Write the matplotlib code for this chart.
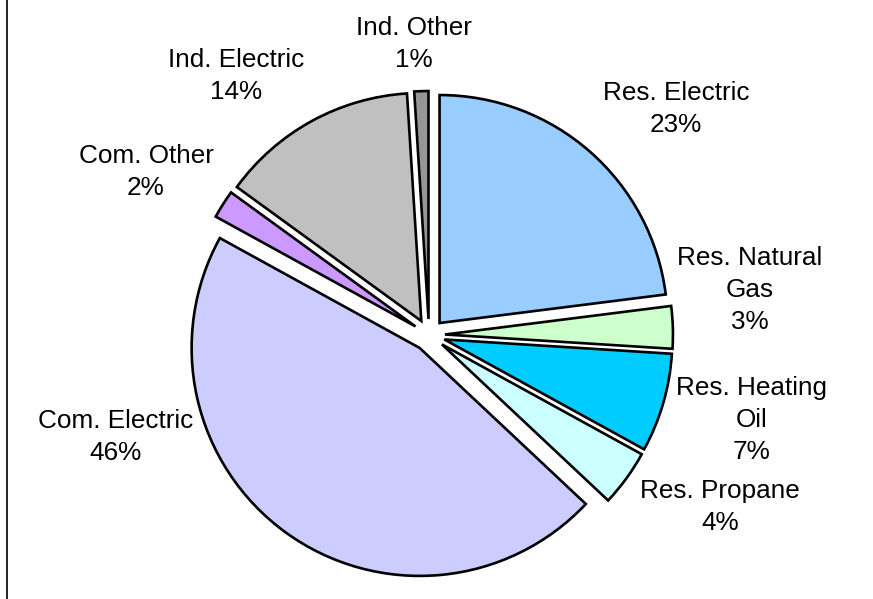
import matplotlib
matplotlib.use("Agg")
import matplotlib.pyplot as plt

categories = ["Res. Electric", "Res. Natural\nGas", "Res. Heating\nOil", "Res. Propane",
              "Com. Electric", "Com. Other", "Ind. Electric", "Ind. Other"]
shares = [23, 3, 7, 4, 46, 2, 14, 1]
colors = ["#99CCFF", "#CCFFCC", "#00CCFF", "#CCFFFF",
          "#CCCCFF", "#CC99FF", "#C0C0C0", "#969696"]

# label anchor points (pixel space, y measured upward)
label_pos = [(676, 490), (750, 309), (752, 179), (720, 92),
             (116, 162), (146, 427), (236, 523), (414, 555)]

W, H = 873, 599
R = 228
fig = plt.figure(figsize=(W / 100, H / 100), dpi=100)
ax = fig.add_axes([0, 0, 1, 1])

# explode offset is in data units here, so scale it by the radius
ax.pie(shares, colors=colors, startangle=90, counterclock=False,
       explode=[0.07 * R] * len(shares), radius=R, center=(429, 264),
       wedgeprops=dict(edgecolor="black", linewidth=1.9))

for name, val, (x, y) in zip(categories, shares, label_pos):
    ax.text(x, y, f"{name}\n{val}%", ha="center", va="center",
            fontsize=18.8, family="Liberation Sans", linespacing=1.43)

ax.plot([7, 7], [0, H], color="black", linewidth=1.2)

ax.set_xlim(0, W)
ax.set_ylim(0, H)
ax.set_aspect("auto")
ax.axis("off")

fig.savefig("out.png", dpi=100)
